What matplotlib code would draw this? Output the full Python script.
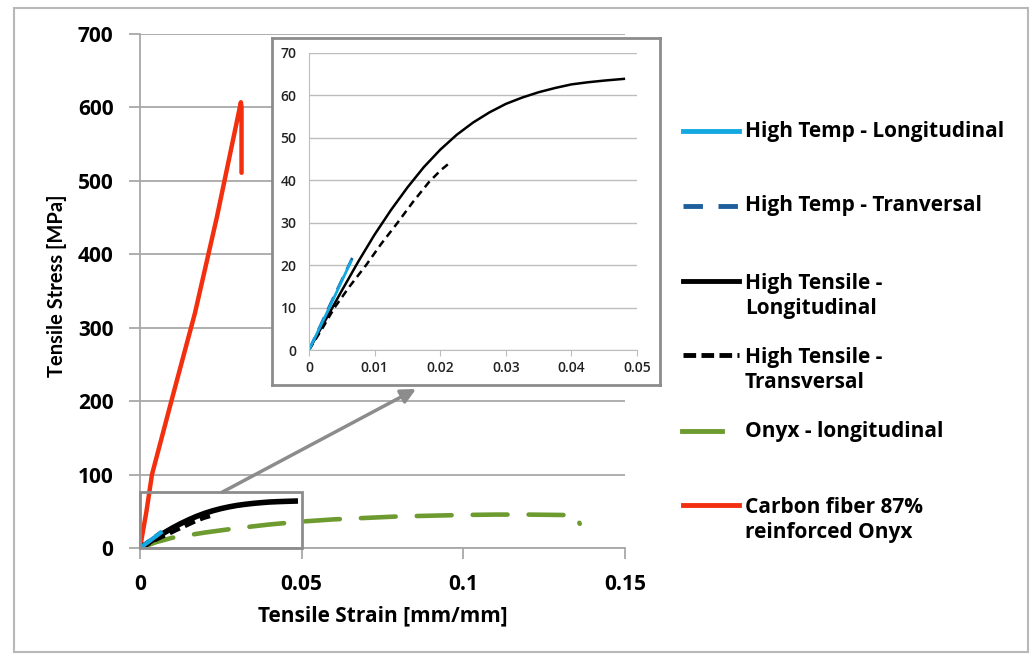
import matplotlib
matplotlib.use('Agg')
import matplotlib.pyplot as plt
from matplotlib.patches import Rectangle
from matplotlib.lines import Line2D

plt.rcParams['font.family'] = ['Open Sans', 'DejaVu Sans']

# ---------------- data ----------------
ht_long_x = [0, 0.0032, 0.0064]
ht_long_y = [0, 10.3, 20.9]
ht_trans_x = [0, 0.0033, 0.0066]
ht_trans_y = [0, 11.0, 21.7]
hts_long_x = [0, 0.0025, 0.005, 0.0075, 0.01, 0.0125, 0.015, 0.0175, 0.02, 0.0225,
              0.025, 0.0275, 0.03, 0.0325, 0.035, 0.0375, 0.04, 0.0425, 0.045, 0.048]
hts_long_y = [0, 7.0, 14.0, 20.8, 27.2, 33.0, 38.3, 43.1, 47.2, 50.7,
              53.6, 56.0, 58.0, 59.5, 60.75, 61.75, 62.6, 63.1, 63.5, 63.9]
hts_trans_x = [0, 0.002, 0.0039, 0.0062, 0.0087, 0.011, 0.0135, 0.0159, 0.0183, 0.0201, 0.0216]
hts_trans_y = [0, 5, 10, 15, 20, 25, 30, 35, 39.6, 42.4, 44.3]
onyx_x = [0, 0.005, 0.01, 0.02, 0.03, 0.04, 0.05, 0.06, 0.07, 0.08, 0.09, 0.10, 0.11, 0.12, 0.13, 0.135, 0.136]
onyx_y = [0, 8, 14, 21, 27, 32, 36, 39, 41, 43, 44, 45, 45.5, 45.5, 45, 44.5, 33]
cf_x = [0, 0.002, 0.0037, 0.01, 0.017, 0.0238, 0.0312, 0.0314, 0.0314]
cf_y = [0, 50, 100, 205, 320, 451, 607, 600, 511]

main_xticks = [0, 0.05, 0.10, 0.15]
main_xticklabels = ['0', '0.05', '0.1', '0.15']
main_yticks = [0, 100, 200, 300, 400, 500, 600, 700]
inset_xticks = [0, 0.01, 0.02, 0.03, 0.04, 0.05]
inset_xticklabels = ['0', '0.01', '0.02', '0.03', '0.04', '0.05']
inset_yticks = [0, 10, 20, 30, 40, 50, 60, 70]

legend_labels = ['High Temp - Longitudinal', 'High Temp - Tranversal',
                 'High Tensile -\nLongitudinal', 'High Tensile -\nTransversal',
                 'Onyx - longitudinal', 'Carbon fiber 87%\nreinforced Onyx']

# ---------------- styles ----------------
C_HTL = '#14a8e0'
C_HTT = '#1f5e9c'
C_BLK = '#000000'
C_ONX = '#6e9b30'
C_CF = '#f2300f'
GRID = '#a8a8a8'
BOXC = '#8c8c8c'

W, H = 1032, 657
def fx(px):
    return px / W
def fy(py):
    return 1 - py / H

fig = plt.figure(figsize=(W / 100, H / 100), dpi=100)
fig.patch.set_facecolor('white')

# outer frame
fig.add_artist(Rectangle((fx(14), fy(652)), fx(1028) - fx(14), fy(8) - fy(652),
                         transform=fig.transFigure, fill=False, ec='#b8b8b8', lw=1.5))

# ---------------- main axes ----------------
ax = fig.add_axes([fx(140), fy(548), fx(625) - fx(140), fy(34) - fy(548)])
ax.set_xlim(0, 0.15)
ax.set_ylim(0, 700)
ax.set_xticks(main_xticks)
ax.set_xticklabels(main_xticklabels)
ax.set_yticks(main_yticks)
ax.grid(axis='y', color=GRID, lw=1.3)
ax.set_axisbelow(True)
for s in ['top', 'right']:
    ax.spines[s].set_visible(False)
for s in ['left', 'bottom']:
    ax.spines[s].set_color(GRID)
    ax.spines[s].set_linewidth(1.3)
ax.tick_params(direction='out', length=8, width=1.3, color=GRID, labelsize=15, pad=11)
for lab in ax.get_xticklabels() + ax.get_yticklabels():
    lab.set_fontweight('bold')

ax.plot(onyx_x, onyx_y, color=C_ONX, lw=3.3, dashes=(7.6, 4.6), dash_capstyle='round')
ax.plot(cf_x, cf_y, color=C_CF, lw=3.2, solid_capstyle='round', solid_joinstyle='round')
ax.plot(hts_trans_x, hts_trans_y, color=C_BLK, lw=4, dashes=(2, 1))
ax.plot(hts_long_x, hts_long_y, color=C_BLK, lw=4)
ax.plot(ht_trans_x, ht_trans_y, color=C_HTT, lw=3, dashes=(3, 1.5))
ax.plot(ht_long_x, ht_long_y, color=C_HTL, lw=3)

ax.set_xlabel('Tensile Strain [mm/mm]', fontsize=15, fontweight='bold')
ax.set_ylabel('Tensile Stress [MPa]', fontsize=14.5, fontweight='bold', family=['Lato', 'DejaVu Sans'])
ax.xaxis.set_label_coords(0.501, -0.112)
ax.yaxis.set_label_coords(-0.15, 0.51)

# zoom rectangle and arrow
ax.add_patch(Rectangle((0, 0), 0.05, 76, fill=False, ec=BOXC, lw=2, zorder=6, clip_on=False))
ax.annotate('', xy=(fx(416), fy(389)), xycoords='figure fraction',
            xytext=(0.0254, 76), textcoords='data',
            arrowprops=dict(arrowstyle='-|>', color=BOXC, lw=2.5, mutation_scale=22,
                            shrinkA=0, shrinkB=0))

# ---------------- inset ----------------
bg = fig.add_axes([fx(272), fy(385), fx(660) - fx(272), fy(38) - fy(385)])
bg.set_xticks([])
bg.set_yticks([])
for s in bg.spines.values():
    s.set_color(BOXC)
    s.set_linewidth(2)

ins = fig.add_axes([fx(309), fy(350), fx(637) - fx(309), fy(53) - fy(350)])
ins.patch.set_alpha(0)
ins.set_xlim(0, 0.05)
ins.set_ylim(0, 70)
ins.set_xticks(inset_xticks)
ins.set_xticklabels(inset_xticklabels)
ins.set_yticks(inset_yticks)
ins.grid(axis='y', color='#bdbdbd', lw=1.0)
ins.set_axisbelow(True)
for s in ['top', 'right']:
    ins.spines[s].set_visible(False)
for s in ['left', 'bottom']:
    ins.spines[s].set_color('#bdbdbd')
ins.tick_params(axis='x', direction='out', length=4, color='#bdbdbd', labelsize=10, pad=4,
                labelcolor='#222222')
ins.tick_params(axis='y', length=0, labelsize=10, pad=9, labelcolor='#222222')
for lab in ins.get_xticklabels() + ins.get_yticklabels():
    lab.set_fontweight('semibold')
ins.plot(hts_long_x, hts_long_y, color=C_BLK, lw=1.8, solid_joinstyle='round')
ins.plot(hts_trans_x, hts_trans_y, color=C_BLK, lw=1.8, dashes=(3, 2))
ins.plot(ht_trans_x, ht_trans_y, color=C_HTT, lw=2, dashes=(5, 3))
ins.plot(ht_long_x, ht_long_y, color=C_HTL, lw=2)

# ---------------- legend (manual) ----------------
leg_styles = [
    dict(color=C_HTL, ls='-'),
    dict(color=C_HTT, dashes=(4, 3.2)),
    dict(color=C_BLK, ls='-'),
    dict(color=C_BLK, dashes=(2.6, 1.1)),
    dict(color=C_ONX, ls='-'),
    dict(color=C_CF, ls='-'),
]
leg_x0 = [683, 683, 683, 683, 682, 683]
leg_x1 = [739, 739, 739, 739, 722, 739]
row_y = [131, 206, 281, 355, 431, 505]
for lab, st, x0, x1, yy in zip(legend_labels, leg_styles, leg_x0, leg_x1, row_y):
    fig.add_artist(Line2D([fx(x0), fx(x1)], [fy(yy), fy(yy)], transform=fig.transFigure,
                          lw=3.5, **st))
    nl = lab.count('\n')
    fig.text(fx(745), fy(yy + 15 * nl), lab, fontsize=15, fontweight='bold',
             ha='left', va='center', linespacing=1.3)

fig.savefig('out.png', dpi=100)
